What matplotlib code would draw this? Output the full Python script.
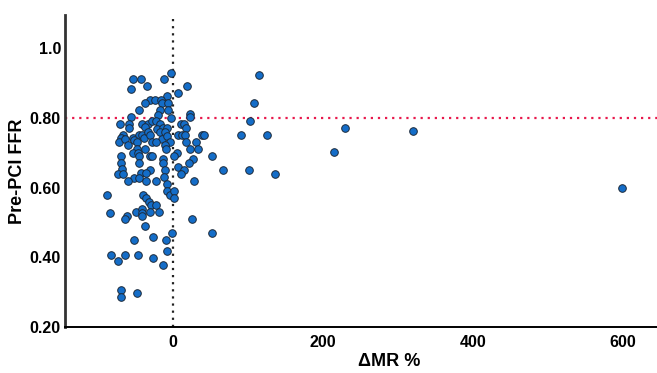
import matplotlib
matplotlib.use("Agg")
import matplotlib.pyplot as plt

plt.rcParams['font.family'] = ['Liberation Sans', 'DejaVu Sans']

# ΔMR % vs pre-PCI FFR
dmr = [-3, -53, -43, -12, -56, -35, 19, 7, -8, -31,
       -24, -16, -37, -15, -7, -45, -17, -7, 23, 23,
       -56, -20, -3, 115, 108, 103, -71, -59, -59, -41,
       -33, -37, -28, -23, -17, -21, -13, -8, 11, 15,
       17, -67, -69, -72, -53, -45, -41, -39, -33, -31,
       -17, -11, -15, -8, 7, 12, 16, 39, 41, 91,
       125, 229, 320, -64, -52, -48, -28, -23, -4, 17,
       31, -60, -11, -9, -48, -37, 23, 33, -53, -47,
       5, -69, -31, -45, -28, 1, 52, -13, 27, -69,
       -45, -13, 21, -68, -31, -11, 7, 15, 67, 101,
       -73, -67, -43, -36, 11, 136, -52, -45, -60, -36,
       -23, -12, 28, -8, 598, -88, -40, -36, -32, -29,
       -23, -8, -4, 1, 1, 215, -84, -61, -64, -49,
       -41, -41, -41, -31, -19, 25, -37, -1, 52, -52,
       -27, -9, -8, -83, -64, -47, -73, -27, -13, -69,
       -69, -48]
ffr = [0.928, 0.911, 0.911, 0.911, 0.882, 0.891, 0.891, 0.871, 0.862, 0.851,
       0.851, 0.851, 0.842, 0.842, 0.842, 0.822, 0.822, 0.822, 0.811, 0.802,
       0.802, 0.808, 0.800, 0.923, 0.842, 0.791, 0.782, 0.782, 0.771, 0.782,
       0.782, 0.774, 0.791, 0.791, 0.782, 0.768, 0.771, 0.771, 0.782, 0.782,
       0.771, 0.751, 0.742, 0.731, 0.742, 0.751, 0.751, 0.742, 0.759, 0.751,
       0.759, 0.759, 0.739, 0.748, 0.751, 0.751, 0.751, 0.751, 0.751, 0.751,
       0.751, 0.771, 0.762, 0.739, 0.736, 0.731, 0.731, 0.731, 0.731, 0.731,
       0.731, 0.722, 0.722, 0.711, 0.711, 0.711, 0.711, 0.711, 0.699, 0.699,
       0.699, 0.690, 0.690, 0.690, 0.690, 0.690, 0.690, 0.682, 0.682, 0.670,
       0.670, 0.670, 0.670, 0.653, 0.650, 0.650, 0.659, 0.650, 0.650, 0.650,
       0.639, 0.639, 0.642, 0.642, 0.639, 0.639, 0.627, 0.627, 0.619, 0.619,
       0.619, 0.630, 0.619, 0.610, 0.599, 0.579, 0.579, 0.570, 0.559, 0.550,
       0.550, 0.590, 0.579, 0.590, 0.570, 0.702, 0.527, 0.518, 0.510, 0.530,
       0.538, 0.527, 0.518, 0.530, 0.530, 0.510, 0.490, 0.470, 0.470, 0.450,
       0.458, 0.450, 0.418, 0.407, 0.407, 0.407, 0.389, 0.398, 0.378, 0.306,
       0.286, 0.298]

ffr_cutoff = 0.80
y_ticks = [0.2, 0.4, 0.6, 0.8, 1.0]
y_tick_labels = ['0.20', '0.40', '0.60', '0.80', '1.0']
x_ticks = [0, 200, 400, 600]

fig = plt.figure(figsize=(6.57, 3.73), dpi=100)
ax = fig.add_axes([0.099, 0.123, 0.901, 0.837])

ax.axhline(ffr_cutoff, color='#e8194c', linestyle=(0, (1, 2.2)), linewidth=1.6, zorder=1)
ax.axvline(0, color='#222222', linestyle=(0, (1, 2.2)), linewidth=1.6, zorder=1)

ax.scatter(dmr, ffr, s=30, color='#146dc8', edgecolors='#1c2a3a', linewidths=0.7, zorder=3)

ax.set_xlim(-144, 645)
ax.set_ylim(0.2, 1.095)
ax.set_xticks(x_ticks)
ax.set_yticks(y_ticks)
ax.set_yticklabels(y_tick_labels)
ax.tick_params(axis='y', length=0, labelsize=11.5, pad=3)
ax.tick_params(axis='x', length=0, labelsize=11.5, pad=6)
for lbl in ax.get_xticklabels() + ax.get_yticklabels():
    lbl.set_fontweight('bold')

ax.spines['top'].set_visible(False)
ax.spines['right'].set_visible(False)
ax.spines['left'].set_linewidth(2)
ax.spines['left'].set_color('#333333')
ax.spines['bottom'].set_linewidth(1.4)

ax.set_xlabel('ΔMR %', fontsize=13, fontweight='bold')
ax.set_ylabel('Pre-PCI FFR', fontsize=13, fontweight='bold')
ax.xaxis.set_label_coords(0.547, -0.082)
ax.yaxis.set_label_coords(-0.066, 0.5)

fig.savefig('out.png', dpi=100)
